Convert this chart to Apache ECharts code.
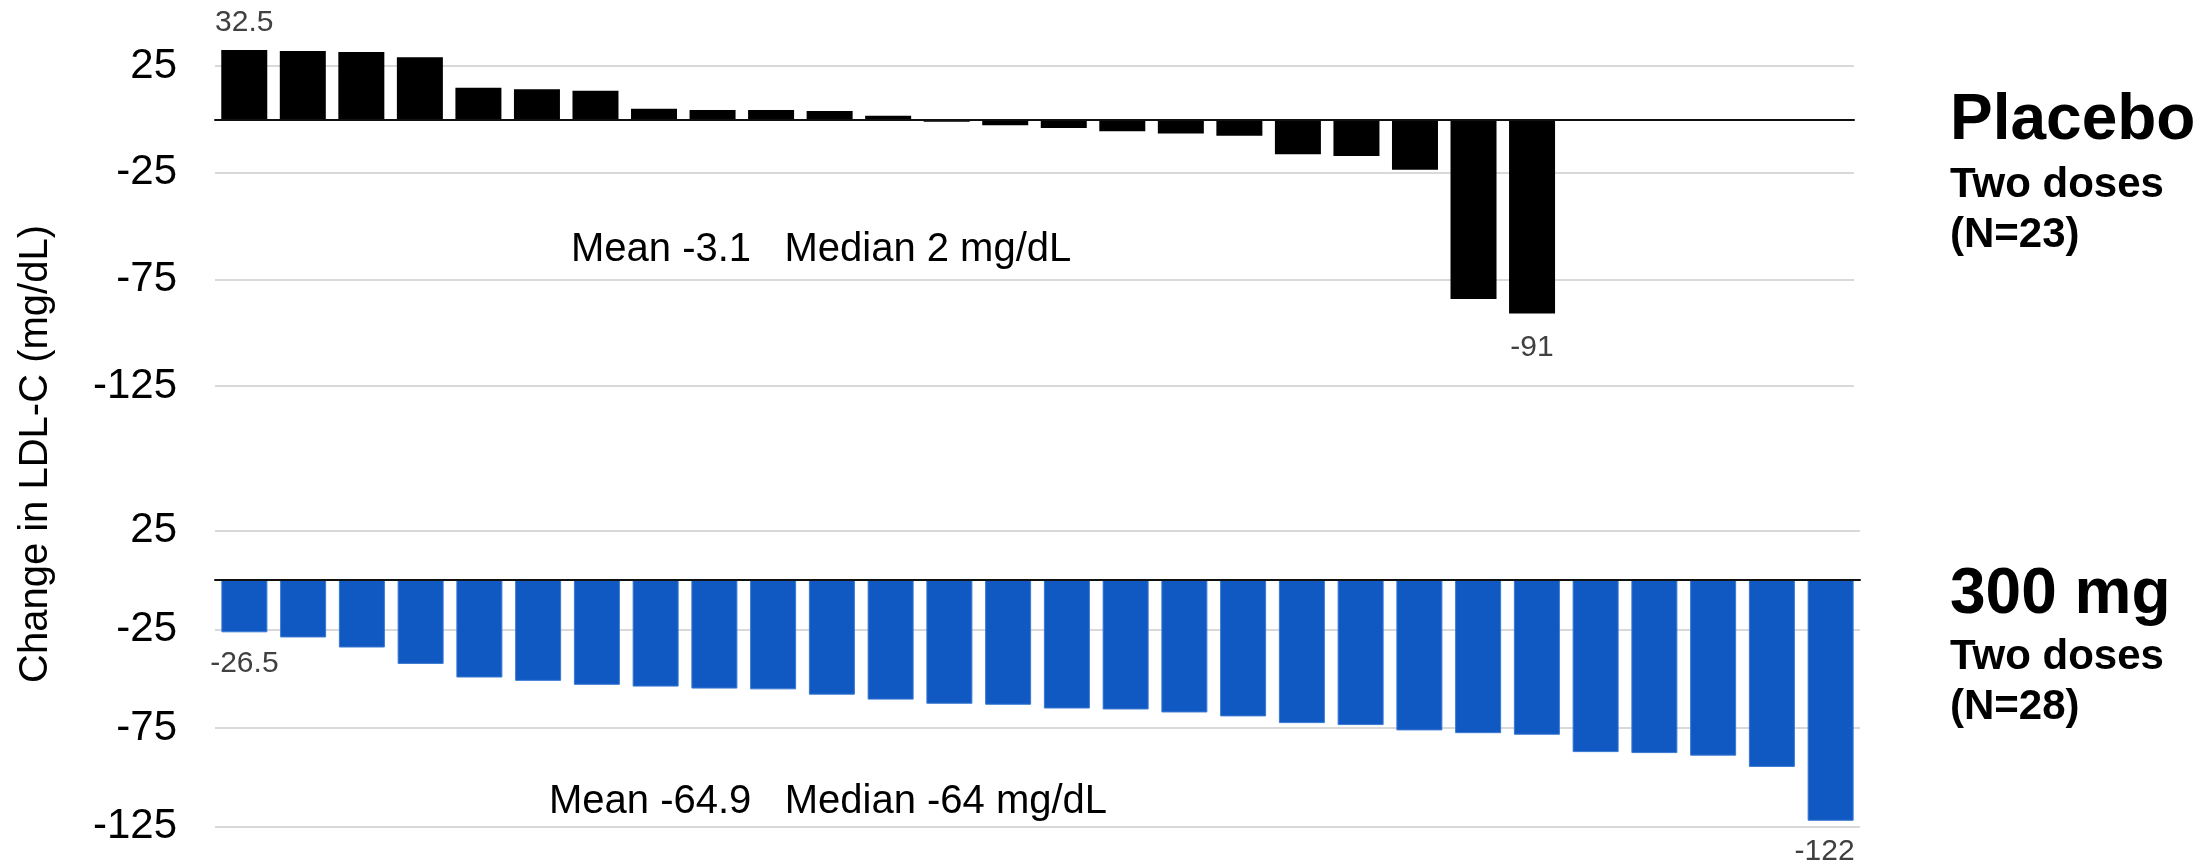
<!DOCTYPE html>
<html>
<head>
<meta charset="utf-8">
<script src="https://cdn.jsdelivr.net/npm/echarts@6/dist/echarts.min.js"></script>
<style>
html,body{margin:0;padding:0;background:#fff;}
#c{width:2210px;height:866px;}
</style>
</head>
<body>
<div id="c"></div>
<script>
const categories = ['1','2','3','4','5','6','7','8','9','10','11','12','13','14','15','16','17','18','19','20','21','22','23','24','25','26','27','28'];
const placeboValues = [32.5, 32.0, 31.6, 29.1, 14.8, 14.1, 13.4, 5.0, 4.4, 4.4, 3.9, 1.7, -1.1, -2.7, -4.1, -5.6, -6.6, -7.7, -16.3, -17.2, -23.6, -84.2, -91];
const doseValues = [-26.5, -29.1, -34.2, -42.5, -49.4, -51.1, -53.1, -54.0, -55.0, -55.4, -58.1, -60.6, -62.7, -63.2, -65.1, -65.6, -67.1, -69.1, -72.5, -73.5, -76.2, -77.6, -78.4, -87.2, -87.7, -89.0, -94.7, -122];
const yMin = -125, yMax = 25, yInterval = 50;
const placeboLabeled = [0, 22];
const doseLabeled = [0, 27];
const placeboStats = 'Mean -3.1   Median 2 mg/dL';
const doseStats = 'Mean -64.9   Median -64 mg/dL';
const placeboTitle = ['Placebo', 'Two doses', '(N=23)'];
const doseTitle = ['300 mg', 'Two doses', '(N=28)'];
const yTitle = 'Change in LDL-C (mg/dL)';

const FF = '"Liberation Sans", Arial, sans-serif';
const chart = echarts.init(document.getElementById('c'), null, {renderer: 'canvas'});

function buildData(values, labeled, offsetLast, negDist) {
  const out = [];
  for (let i = 0; i < categories.length; i++) {
    if (i >= values.length) { out.push('-'); continue; }
    const v = values[i];
    const item = {value: v};
    if (labeled.indexOf(i) >= 0) {
      item.label = {
        show: true,
        position: v >= 0 ? 'top' : 'bottom',
        distance: v >= 0 ? 12 : negDist,
        formatter: String(v),
        fontSize: 30,
        fontFamily: FF,
        color: '#404040'
      };
      if (offsetLast && i === values.length - 1) item.label.offset = [-6, 0];
    }
    out.push(item);
  }
  return out;
}

function yAxisCfg(gi) {
  return {
    type: 'value', gridIndex: gi, min: yMin, max: yMax, interval: yInterval,
    axisLine: {show: false}, axisTick: {show: false},
    axisLabel: {fontSize: 42, fontFamily: FF, color: '#000', margin: 38},
    splitLine: {lineStyle: {color: '#d9d9d9', width: 2}}
  };
}
function xAxisCfg(gi) {
  return {
    type: 'category', gridIndex: gi, data: categories, z: 5,
    axisLine: {onZero: true, lineStyle: {color: '#111', width: 2}},
    axisTick: {show: false}, axisLabel: {show: false}, splitLine: {show: false}
  };
}
function txt(text, x, y, font, align) {
  return {
    type: 'text', x: x, y: y,
    style: {text: text, font: font, fill: '#000',
      textAlign: align || 'left', align: align || 'left',
      textVerticalAlign: 'middle', verticalAlign: 'middle'}
  };
}

chart.setOption({
  animation: false,
  backgroundColor: '#fff',
  grid: [
    {left: 215, top: 66, width: 1639, height: 320.2},
    {left: 215, top: 530.7, width: 1645, height: 296}
  ],
  xAxis: [xAxisCfg(0), xAxisCfg(1)],
  yAxis: [yAxisCfg(0), yAxisCfg(1)],
  series: [
    {type: 'bar', xAxisIndex: 0, yAxisIndex: 0, barWidth: 46, clip: false,
     itemStyle: {color: '#000'}, data: buildData(placeboValues, placeboLabeled, false, 19)},
    {type: 'bar', xAxisIndex: 1, yAxisIndex: 1, barWidth: 46, clip: false,
     itemStyle: {color: '#1059c3', borderColor: '#3a78d2', borderWidth: 1},
     data: buildData(doseValues, doseLabeled, true, 16)}
  ],
  graphic: [
    txt(placeboStats, 571, 250, '40px ' + FF),
    txt(doseStats, 549, 802, '40px ' + FF),
    txt(placeboTitle[0], 1950, 121.5, 'bold 64px ' + FF),
    txt(placeboTitle[1], 1950, 185, 'bold 42px ' + FF),
    txt(placeboTitle[2], 1950, 235, 'bold 42px ' + FF),
    txt(doseTitle[0], 1950, 595, 'bold 64px ' + FF),
    txt(doseTitle[1], 1950, 657.5, 'bold 42px ' + FF),
    txt(doseTitle[2], 1950, 707, 'bold 42px ' + FF),
    {type: 'text', x: 36, y: 454, rotation: Math.PI / 2,
     style: {text: yTitle, font: '40px ' + FF, fill: '#000',
       textAlign: 'center', align: 'center', textVerticalAlign: 'middle', verticalAlign: 'middle'}}
  ]
});
</script>
</body>
</html>
